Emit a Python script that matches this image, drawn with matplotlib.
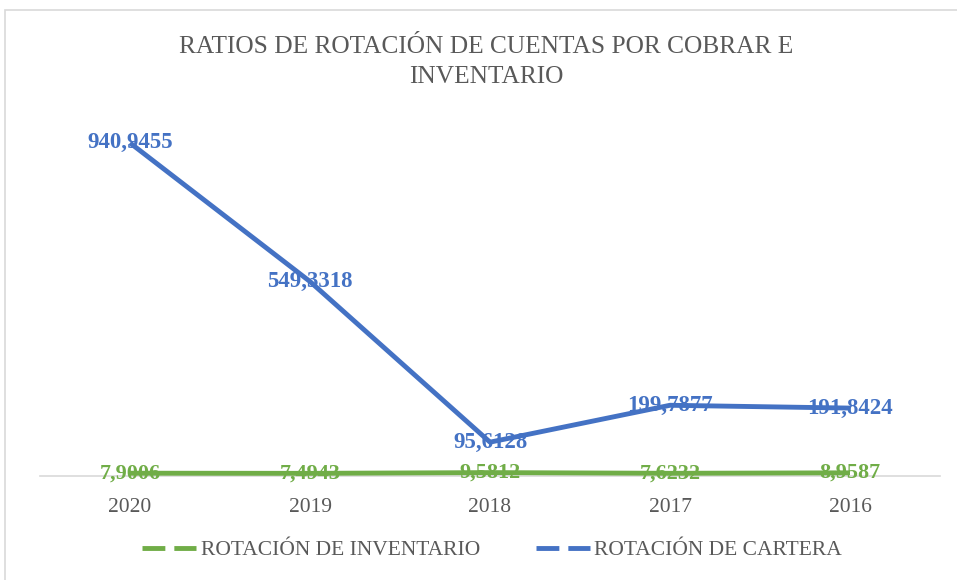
import matplotlib.pyplot as plt
from matplotlib.lines import Line2D
from matplotlib.patches import Rectangle

# ── Data ───────────────────────────────────────────────────────────────────
years = ['2020', '2019', '2018', '2017', '2016']
inventario = [7.9006, 7.4943, 9.5812, 7.6232, 8.9587]
cartera = [940.9455, 549.3318, 95.6128, 199.7877, 191.8424]
inv_labels = ['7,9006', '7,4943', '9,5812', '7,6232', '8,9587']
car_labels = ['940,9455', '549,3318', '95,6128', '199,7877', '191,8424']

GREEN = '#70AD47'
BLUE = '#4472C4'
TEXT = '#595959'
LINE_GRAY = '#D9D9D9'

plt.rcParams['font.family'] = ['Liberation Serif', 'DejaVu Serif']

fig = plt.figure(figsize=(9.57, 5.8), dpi=100)
fig.patch.set_facecolor('white')

# chart frame
fig.patches.append(Rectangle((5 / 957, -0.05), 1.0, 1 - 10 / 580 + 0.05,
                             transform=fig.transFigure, fill=False,
                             edgecolor=LINE_GRAY, linewidth=1.2))

ax = fig.add_axes([40 / 957, 1 - 476 / 580, 900 / 957, 354 / 580])
x = range(len(years))

ax.plot(x, inventario, color=GREEN, linewidth=3.5, solid_capstyle='butt', zorder=2)
ax.plot(x, cartera, color=BLUE, linewidth=3.5, solid_capstyle='butt', zorder=2)

for i, lab in enumerate(inv_labels):
    ax.text(i, inventario[i], lab, color=GREEN, fontsize=16, fontweight='bold',
            ha='center', va='center', zorder=3)
for i, lab in enumerate(car_labels):
    ax.text(i, cartera[i], lab, color=BLUE, fontsize=16.5, fontweight='bold',
            ha='center', va='center', zorder=3)

ax.set_xlim(-0.5, len(years) - 0.5)
ax.set_ylim(0, 1000)
ax.set_xticks(list(x))
ax.set_xticklabels(years, fontsize=15.5, color=TEXT)
ax.tick_params(axis='x', length=0, pad=16)
ax.set_yticks([])
for side in ['left', 'right', 'top']:
    ax.spines[side].set_visible(False)
ax.spines['bottom'].set_color(LINE_GRAY)
ax.spines['bottom'].set_linewidth(1.2)
ax.spines['bottom'].set_zorder(1)

# ── Title ──────────────────────────────────────────────────────────────────
fig.text(486 / 957, 1 - 62 / 580,
         'RATIOS DE ROTACIÓN DE CUENTAS POR COBRAR E\nINVENTARIO',
         ha='center', va='center', fontsize=18.3, color=TEXT, linespacing=1.45)

# ── Legend ─────────────────────────────────────────────────────────────────
handles = [
    Line2D([], [], color=GREEN, linewidth=3.5, linestyle=(0, (4.7, 1.85))),
    Line2D([], [], color=BLUE, linewidth=3.5, linestyle=(0, (4.7, 1.85))),
]
fig.legend(handles, ['ROTACIÓN DE INVENTARIO', 'ROTACIÓN DE CARTERA'],
           loc='center', bbox_to_anchor=(492 / 957, 1 - 550 / 580), ncol=2,
           frameon=False, fontsize=15.5, labelcolor=TEXT, handlelength=2.5,
           handletextpad=0.2, columnspacing=2.6)

plt.savefig('out.png', dpi=100, facecolor=fig.get_facecolor())
